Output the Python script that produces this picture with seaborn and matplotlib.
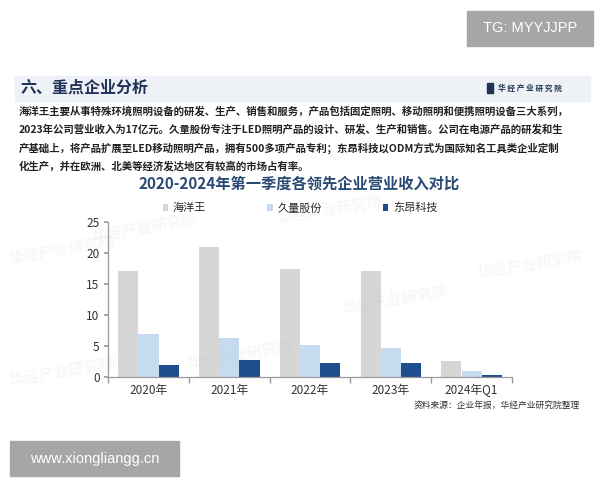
import numpy as np
import pandas as pd
import matplotlib
matplotlib.use('Agg')
import matplotlib.pyplot as plt
import seaborn as sns
from matplotlib.patches import Rectangle

# data (亿元)
years = ['2020年', '2021年', '2022年', '2023年', '2024年Q1']
companies = ['海洋王', '久量股份', '东昂科技']
haiyangwang = [17.0, 21.0, 17.4, 17.0, 2.6]
jiuliang = [7.0, 6.3, 5.1, 4.6, 0.9]
dongang = [1.9, 2.7, 2.2, 2.2, 0.4]

para_lines = [
    '海洋王主要从事特殊环境照明设备的研发、生产、销售和服务，产品包括固定照明、移动照明和便携照明设备三大系列，',
    '2023年公司营业收入为17亿元。久量股份专注于LED照明产品的设计、研发、生产和销售。公司在电源产品的研发和生',
    '产基础上，将产品扩展至LED移动照明产品，拥有500多项产品专利；东昂科技以ODM方式为国际知名工具类企业定制',
    '化生产，并在欧洲、北美等经济发达地区有较高的市场占有率。',
]

df = pd.DataFrame({
    'year': years * 3,
    'company': [c for c in companies for _ in years],
    'value': haiyangwang + jiuliang + dongang,
})

sns.set_theme(style='white')
plt.rcParams['font.family'] = ['Noto Sans CJK SC', 'DejaVu Sans']

W, H = 600, 480
fig = plt.figure(figsize=(6, 4.8), dpi=100)


def fx(x):
    return x / W


def fy(y):
    return 1 - y / H


navy = '#1f3356'

# header band
fig.patches.append(Rectangle((fx(15), fy(101)), fx(575), 25 / H, transform=fig.transFigure,
                             color='#eef1f6', zorder=0))
fig.text(fx(20), fy(88), '六、重点企业分析', fontsize=11.5, fontweight='bold', color=navy, va='center')
fig.patches.append(Rectangle((fx(487), fy(93)), 6 / W, 10 / H, transform=fig.transFigure,
                             color=navy, zorder=1))
fig.text(fx(498), fy(88), '华 经 产 业 研 究 院', fontsize=5.5, color=navy, va='center', fontweight='bold')

# paragraph
for i, line in enumerate(para_lines):
    fig.text(fx(19), fy(111 + i * 18.5), line, fontsize=7.5, color='#222222', va='center',
             fontweight='bold')

# chart title
fig.text(fx(299), fy(184), '2020-2024年第一季度各领先企业营业收入对比', fontsize=11,
         fontweight='bold', color='#2b4a73', ha='center', va='center')

# watermarks
for (x, y) in [(145, 228), (240, 355), (330, 210), (395, 300), (530, 265), (62, 250), (62, 372)]:
    fig.text(fx(x), fy(y), '华经产业研究院', fontsize=11, color='#9fb3c8', alpha=0.1,
             rotation=10, ha='center', va='center', fontweight='bold')

ax = fig.add_axes([fx(108), fy(377), fx(512) - fx(108), (377 - 221.7) / H])
palette = ['#d6d6d6', '#c6daf0', '#1f4e8c']
sns.barplot(data=df, x='year', y='value', hue='company', palette=palette, width=0.75,
            saturation=1, linewidth=0, gap=0, ax=ax, zorder=2)
ax.set_ylim(0, 25)
ax.set_xlim(-0.5, 4.5)
ax.set_yticks([0, 5, 10, 15, 20, 25])
ax.set_xlabel('')
ax.set_ylabel('')
for s in ['top', 'right']:
    ax.spines[s].set_visible(False)
for s in ['left', 'bottom']:
    ax.spines[s].set_color('#9a9a9a')
    ax.spines[s].set_linewidth(0.9)
ax.tick_params(axis='y', left=True, length=3, color='#9a9a9a', labelsize=8.5, labelcolor='#333333', pad=3)
ax.tick_params(axis='x', which='major', length=0, labelsize=8.5, labelcolor='#333333', pad=5)
ax.set_xticks(np.arange(-0.5, 5, 1), minor=True)
ax.tick_params(axis='x', which='minor', bottom=True, length=4, color='#9a9a9a')

leg = ax.legend(loc='center', bbox_to_anchor=((300 - 108) / 404, (377 - 208) / 155.3), ncol=3,
                frameon=False, fontsize=8, handlelength=0.5, handleheight=0.5,
                columnspacing=5.5, handletextpad=0.4)

fig.text(fx(580), fy(405), '资料来源：企业年报，华经产业研究院整理', fontsize=6.3, color='#333333',
         ha='right', va='center')

# overlay tags
fig.patches.append(Rectangle((fx(467), fy(46)), 126 / W, 35 / H, transform=fig.transFigure,
                             color='#a6a6a6', zorder=5))
fig.text(fx(530), fy(28.5), 'TG: MYYJJPP', fontsize=10.5, color='white', ha='center', va='center',
         family='Liberation Sans', zorder=6)
fig.patches.append(Rectangle((fx(10), fy(476)), 169 / W, 35 / H, transform=fig.transFigure,
                             color='#a6a6a6', zorder=5))
fig.text(fx(94.5), fy(458.5), 'www.xiongliangg.cn', fontsize=10.5, color='white', ha='center',
         va='center', family='Liberation Sans', zorder=6)

fig.savefig('out.png', dpi=100)
